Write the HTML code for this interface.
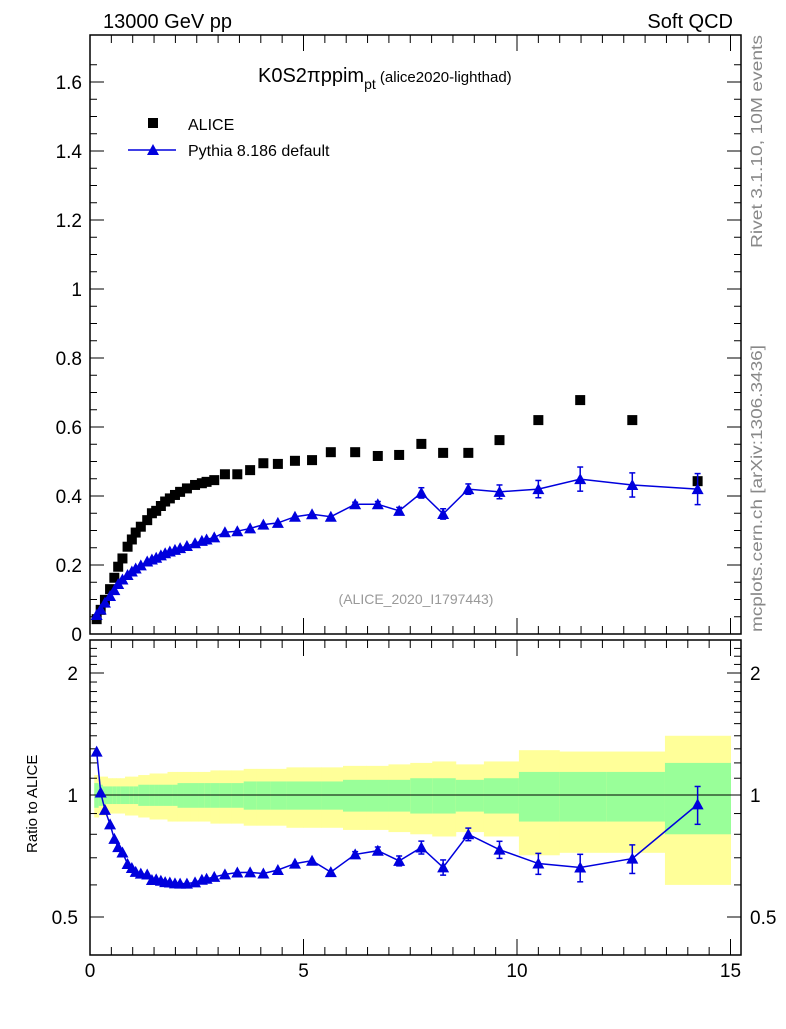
<!DOCTYPE html>
<html><head><meta charset="utf-8"><style>
body{margin:0;background:#fff;}
svg{font-family:"Liberation Sans",sans-serif;}
</style></head><body>
<svg id="c" width="786" height="1024" xmlns="http://www.w3.org/2000/svg"></svg>
<script>
const xVals=[0.156,0.25,0.35,0.47,0.57,0.66,0.76,0.88,0.98,1.07,1.19,1.34,1.45,1.55,1.66,1.76,1.87,1.99,2.11,2.27,2.46,2.62,2.73,2.91,3.16,3.45,3.75,4.06,4.4,4.8,5.2,5.64,6.21,6.74,7.24,7.76,8.27,8.86,9.59,10.5,11.48,12.7,14.23];
const aliceVals=[0.043,0.07,0.099,0.13,0.163,0.195,0.219,0.253,0.274,0.294,0.311,0.33,0.35,0.357,0.371,0.384,0.393,0.403,0.412,0.422,0.432,0.437,0.441,0.446,0.463,0.463,0.475,0.495,0.493,0.502,0.504,0.527,0.527,0.516,0.519,0.551,0.525,0.525,0.562,0.62,0.678,0.62,0.443];
const pythiaVals=[0.055,0.071,0.091,0.11,0.127,0.145,0.158,0.171,0.181,0.19,0.199,0.21,0.216,0.221,0.228,0.234,0.239,0.244,0.249,0.255,0.263,0.27,0.274,0.28,0.295,0.298,0.306,0.317,0.322,0.34,0.347,0.34,0.376,0.376,0.357,0.409,0.348,0.42,0.412,0.42,0.449,0.432,0.42];
const pythiaErr=[0,0,0,0,0,0,0,0,0,0,0,0,0,0,0,0,0,0,0,0,0,0,0,0,0,0,0,0,0,0,0,0,0.006,0.008,0.01,0.015,0.015,0.015,0.02,0.025,0.035,0.035,0.045];
const totErr=[0.12,0.11,0.11,0.1,0.1,0.1,0.1,0.11,0.11,0.11,0.12,0.12,0.13,0.13,0.13,0.13,0.14,0.14,0.14,0.14,0.14,0.14,0.14,0.15,0.15,0.15,0.16,0.16,0.16,0.17,0.17,0.17,0.18,0.18,0.19,0.2,0.21,0.19,0.21,0.29,0.28,0.28,0.4];
const statErr=[0.07,0.06,0.05,0.05,0.05,0.05,0.05,0.05,0.05,0.05,0.06,0.06,0.06,0.06,0.06,0.06,0.06,0.06,0.07,0.07,0.07,0.07,0.07,0.07,0.07,0.07,0.08,0.08,0.08,0.08,0.08,0.08,0.09,0.09,0.09,0.1,0.1,0.09,0.1,0.14,0.14,0.14,0.2];
const yTicks=["0","0.2","0.4","0.6","0.8","1","1.2","1.4","1.6"];
const xTicks=["0","5","10","15"];
const rTicks=["0.5","1","2"];

const NS="http://www.w3.org/2000/svg";
const svg=document.getElementById('c');
const L=90,R=741,T=35,B=634,RT=640,RB=955;
const X=v=>L+v*(730.5-L)/15;
const Y=v=>B-v*345;
const RY=r=>795-122*Math.log2(r);
function el(t,a,p){const e=document.createElementNS(NS,t);for(const k in a)e.setAttribute(k,a[k]);(p||svg).appendChild(e);return e;}
function txt(s,a){const e=el('text',a);e.textContent=s;return e;}

const edges=[0.1];
for(let i=0;i<xVals.length-1;i++)edges.push((xVals[i]+xVals[i+1])/2);
edges.push(15);
const gBand=el('g',{});


for(let i=0;i<xVals.length;i++){
  const x0=X(edges[i]),x1=X(edges[i+1]);
  const yt=RY(1+totErr[i]),yb=RY(Math.max(1-totErr[i],0.45));
  const r=el('rect',{x:x0,y:yt,width:x1-x0+0.5,height:yb-yt,fill:'#ffff99'},gBand);
  
  
  const st=RY(1+statErr[i]),sb=RY(1-statErr[i]);
  const g=el('rect',{x:x0,y:st,width:x1-x0+0.5,height:sb-st,fill:'#99ff99'},gBand);
  
  
}
el('line',{x1:L,x2:R,y1:RY(1),y2:RY(1),stroke:'#000','stroke-width':1});

for(const [t,b,n] of [[T,B,'main-plot-frame'],[RT,RB,'ratio-plot-frame']]){
  const f=el('rect',{x:L,y:t,width:R-L,height:b-t,fill:'none',stroke:'#000','stroke-width':1.5});
  
}
for(let v=0;v<=1.7;v+=0.05){
  const y=Y(v);if(y<T)break;
  const maj=Math.abs(v/0.2-Math.round(v/0.2))<1e-6;const len=maj?14:7;
  el('line',{x1:L,x2:L+len,y1:y,y2:y,stroke:'#000'});
  el('line',{x1:R,x2:R-len,y1:y,y2:y,stroke:'#000'});
}
yTicks.forEach(s=>{const t=txt(s,{x:82,y:Y(+s)+7,'font-size':19,'text-anchor':'end'});});
for(let v=0;v<=15.01;v+=0.5){
  const x=X(v);const maj=Math.abs(v%5)<1e-6;const len=maj?16:8;
  el('line',{x1:x,x2:x,y1:B,y2:B-len,stroke:'#000'});
  el('line',{x1:x,x2:x,y1:T,y2:T+len,stroke:'#000'});
  el('line',{x1:x,x2:x,y1:RB,y2:RB-len,stroke:'#000'});
  el('line',{x1:x,x2:x,y1:RT,y2:RT+len,stroke:'#000'});
}
xTicks.forEach(s=>{const t=txt(s,{x:X(+s),y:977,'font-size':19,'text-anchor':'middle'});});
const rMinor=[0.5,0.6,0.7,0.8,0.9,1,1.1,1.2,1.3,1.4,1.5,1.6,1.7,1.8,1.9,2,2.1,2.2,2.3];
rMinor.forEach(r=>{const y=RY(r);if(y<RT||y>RB)return;const maj=(r===0.5||r===1||r===2);const len=maj?14:7;
  el('line',{x1:L,x2:L+len,y1:y,y2:y,stroke:'#000'});el('line',{x1:R,x2:R-len,y1:y,y2:y,stroke:'#000'});});
rTicks.forEach(s=>{
  const a=txt(s,{x:78,y:RY(+s)+7,'font-size':19,'text-anchor':'end'});
  const b=txt(s,{x:750,y:RY(+s)+7,'font-size':19});
});

const gA=el('g',{});
xVals.forEach((x,i)=>{const r=el('rect',{x:X(x)-5,y:Y(aliceVals[i])-5,width:10,height:10,fill:'#000'},gA);
  });
function tri(cx,cy,g){return el('polygon',{points:`${cx},${cy-6} ${cx-6},${cy+5} ${cx+6},${cy+5}`,fill:'#0000dd'},g);}
const gP=el('g',{});
el('polyline',{points:xVals.map((x,i)=>X(x)+','+Y(pythiaVals[i])).join(' '),fill:'none',stroke:'#0000dd','stroke-width':1.5},gP);
xVals.forEach((x,i)=>{
  if(pythiaErr[i]>0){const a=Y(pythiaVals[i]+pythiaErr[i]),b=Y(pythiaVals[i]-pythiaErr[i]);
    el('line',{x1:X(x),x2:X(x),y1:a,y2:b,stroke:'#0000dd','stroke-width':1.5},gP);
    el('line',{x1:X(x)-3,x2:X(x)+3,y1:a,y2:a,stroke:'#0000dd','stroke-width':1.5},gP);
    el('line',{x1:X(x)-3,x2:X(x)+3,y1:b,y2:b,stroke:'#0000dd','stroke-width':1.5},gP);}
  const t=tri(X(x),Y(pythiaVals[i]),gP);
});
const gR=el('g',{});
const ratio=xVals.map((x,i)=>pythiaVals[i]/aliceVals[i]);
el('polyline',{points:xVals.map((x,i)=>X(x)+','+RY(ratio[i])).join(' '),fill:'none',stroke:'#0000dd','stroke-width':1.5},gR);
xVals.forEach((x,i)=>{
  if(pythiaErr[i]>0){const e=pythiaErr[i]/aliceVals[i];const a=RY(ratio[i]+e),b=RY(ratio[i]-e);
    el('line',{x1:X(x),x2:X(x),y1:a,y2:b,stroke:'#0000dd','stroke-width':1.5},gR);
    el('line',{x1:X(x)-3,x2:X(x)+3,y1:a,y2:a,stroke:'#0000dd','stroke-width':1.5},gR);
    el('line',{x1:X(x)-3,x2:X(x)+3,y1:b,y2:b,stroke:'#0000dd','stroke-width':1.5},gR);}
  const t=tri(X(x),RY(ratio[i]),gR);
});
</script>
<svg width="786" height="1024" style="position:absolute;left:0;top:0" xmlns="http://www.w3.org/2000/svg">
<g font-family="Liberation Sans, sans-serif">
<text x="103" y="28" font-size="20">13000 GeV pp</text>
<text x="733" y="28" font-size="20" text-anchor="end">Soft QCD</text>
<text x="258" y="82" font-size="20">K0S2πppim<tspan font-size="14" dy="7">pt</tspan><tspan font-size="15" dy="-7"> (alice2020-lighthad)</tspan></text>
<rect x="148" y="118" width="10" height="10" fill="#000"/>
<text x="188" y="130" font-size="16">ALICE</text>
<line x1="128" x2="176" y1="150" y2="150" stroke="#0000dd" stroke-width="1.5"/>
<polygon points="153,144 147,155 159,155" fill="#0000dd"/>
<text x="188" y="156" font-size="16">Pythia 8.186 default</text>
<text x="416" y="604" font-size="14" fill="#999" text-anchor="middle">(ALICE_2020_I1797443)</text>
<text transform="translate(762,248) rotate(-90)" font-size="16" fill="#888" textLength="213" lengthAdjust="spacingAndGlyphs">Rivet 3.1.10,  10M events</text>
<text transform="translate(762,632) rotate(-90)" font-size="16" fill="#888" textLength="287" lengthAdjust="spacingAndGlyphs">mcplots.cern.ch [arXiv:1306.3436]</text>
<text transform="translate(37,853) rotate(-90)" font-size="15">Ratio to ALICE</text>
</g></svg>
</body></html>
